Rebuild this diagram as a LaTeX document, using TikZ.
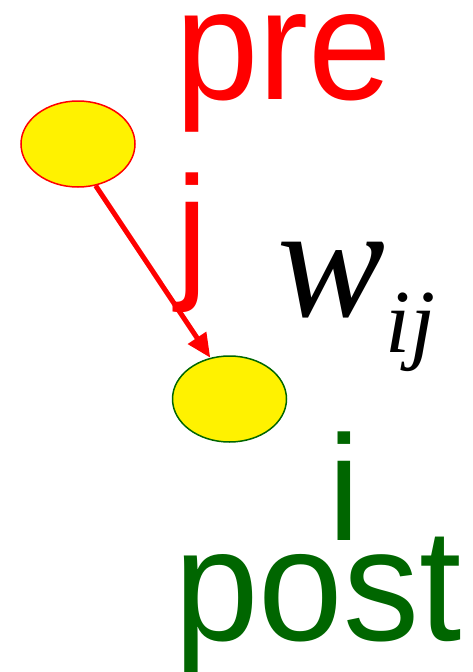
\documentclass[tikz,border=0pt]{standalone}
\usepackage{fontspec}
\setmainfont{Liberation Sans}
\newfontfamily\tnr{Liberation Serif}
\usetikzlibrary{arrows.meta,shapes.geometric}
\definecolor{postgreen}{HTML}{006600}
\tikzset{
  neuron/.style={ellipse, fill=yellow, minimum width=114pt, minimum height=86pt, inner sep=0pt, line width=1.5pt},
  bigtext/.style={inner sep=0pt, outer sep=0pt},
}
\newcommand{\narrow}[1]{\scalebox{0.95}[1]{#1}}
\begin{document}
\begin{tikzpicture}[x=1pt,y=-1pt]
\useasboundingbox (0,0) rectangle (473,672);
\node[neuron, draw=red] (pre) at (78,144) {};
\node[neuron, draw=postgreen] (post) at (229.5,399) {};
\draw[red, line width=5pt, -{Triangle[length=24pt,width=21pt]}] (pre.-67) -- (post.115);
\node[bigtext, anchor=base west, text=red] (pretext) at (175,99) {\narrow{\fontsize{158}{160}\selectfont pre}};
\node[bigtext, anchor=base, text=red] (jtext) at (192.5,281) {\narrow{\fontsize{150}{152}\selectfont j}};
\node[bigtext, anchor=base, text=postgreen] (itext) at (344,540) {\narrow{\fontsize{150}{152}\selectfont i}};
\node[bigtext, anchor=base west, text=postgreen] (posttext) at (174,640) {\narrow{\fontsize{160}{162}\selectfont post}};
\node[bigtext, anchor=base west] (wij) at (277,316) {\tnr\itshape\fontsize{162}{164}\selectfont w\raisebox{-36pt}{\fontsize{90}{92}\selectfont ij}};
\end{tikzpicture}
\end{document}
